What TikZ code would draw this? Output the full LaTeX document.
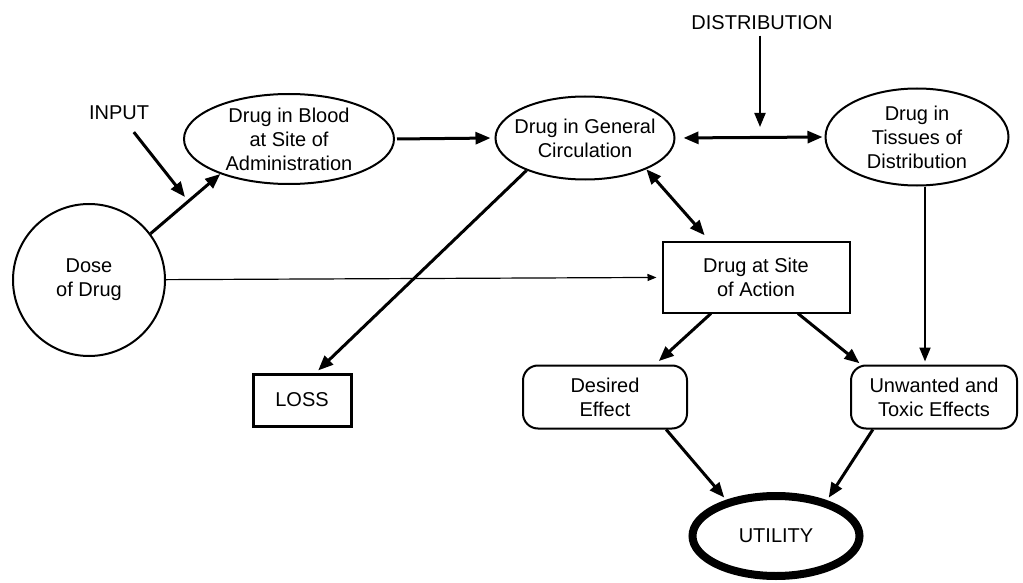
\documentclass[tikz,border=0pt]{standalone}
\usepackage{fontspec}
\setmainfont{Liberation Sans}
\usetikzlibrary{shapes.geometric,arrows.meta}
\tikzset{
    oval/.style={draw, ellipse, line width=2pt, inner sep=0pt},
    actionbox/.style={draw, rectangle, line width=2pt, align=center},
    effectbox/.style={draw, rectangle, rounded corners=15pt, line width=2pt, align=center},
    arr/.style={line width=3pt, -{Triangle[length=15pt,width=12pt]}},
    darr/.style={line width=3pt, {Triangle[length=15pt,width=12pt]}-{Triangle[length=15pt,width=12pt]}},
    thinarr/.style={line width=2pt, -{Triangle[length=14pt,width=11pt]}},
    dosearr/.style={line width=1.2pt, -{Triangle[length=9pt,width=7pt]}}
}
\begin{document}
\begin{tikzpicture}[x=1pt,y=-1pt,
    every node/.append style={font=\fontsize{20}{24}\selectfont}]
    \useasboundingbox (0,0) rectangle (1023,583);
    % Узлы схемы
    \node[oval, minimum width=210, minimum height=90,
        label={[align=center]center:Drug in Blood\\at Site of\\Administration}] (blood) at (289,139) {};
    \node[oval, minimum width=179, minimum height=83,
        label={[align=center]center:Drug in General\\Circulation}] (general) at (585,138) {};
    \node[oval, minimum width=183, minimum height=97,
        label={[align=center]center:Drug in\\Tissues of\\Distribution}] (tissues) at (917,137) {};
    \node[draw, circle, line width=2pt, minimum size=152, align=center] (dose) at (89,280) {Dose\\of Drug};
    \node[actionbox, minimum width=187, minimum height=71] (action) at (756,277) {Drug at Site\\of Action};
    \node[actionbox, line width=3pt, minimum width=98, minimum height=52] (loss) at (302,400) {LOSS};
    \node[effectbox, minimum width=164, minimum height=63] (desired) at (605,397) {Desired\\Effect};
    \node[effectbox, minimum width=166, minimum height=63] (unwanted) at (934,397) {Unwanted and\\Toxic Effects};
    \node[draw, ellipse, line width=8pt, minimum width=167, minimum height=80] (utility) at (776,536) {UTILITY};
    \node (input) at (119,113) {INPUT};
    \node (distribution) at (762,23) {DISTRIBUTION};
    \coordinate (inputend) at (185,197);
    \coordinate (distend) at (760,127);
    % Стрелки
    \draw[arr, shorten <=11pt] ([xshift=8pt]input.south) -- (inputend);
    \draw[arr] (dose.37) -- (blood.207);
    \draw[arr, shorten <=2pt, shorten >=4pt] (blood.east) -- (general.west);
    \draw[darr, shorten <=8pt, shorten >=2pt] (general.east) -- (tissues.west);
    \draw[thinarr, shorten <=2pt] (distend |- distribution.south) -- (distend);
    \draw[arr, shorten >=3pt] (general.209) -- (loss.63);
    \draw[darr, shorten >=7pt] (general.333) -- (action.142);
    \draw[dosearr, shorten >=5pt] (dose) -- (action);
    \draw[arr, shorten >=5pt] (action.219) -- (desired.33);
    \draw[arr, shorten >=2pt] (action.319) -- (unwanted.156);
    \draw[thinarr, shorten >=3pt] ([xshift=8pt]tissues.south) -- ([xshift=8pt]tissues.south |- unwanted.north);
    \draw[arr, shorten >=3pt] (desired.332) -- (utility.144);
    \draw[arr, shorten >=3pt] (unwanted.208) -- (utility.35);
\end{tikzpicture}
\end{document}
